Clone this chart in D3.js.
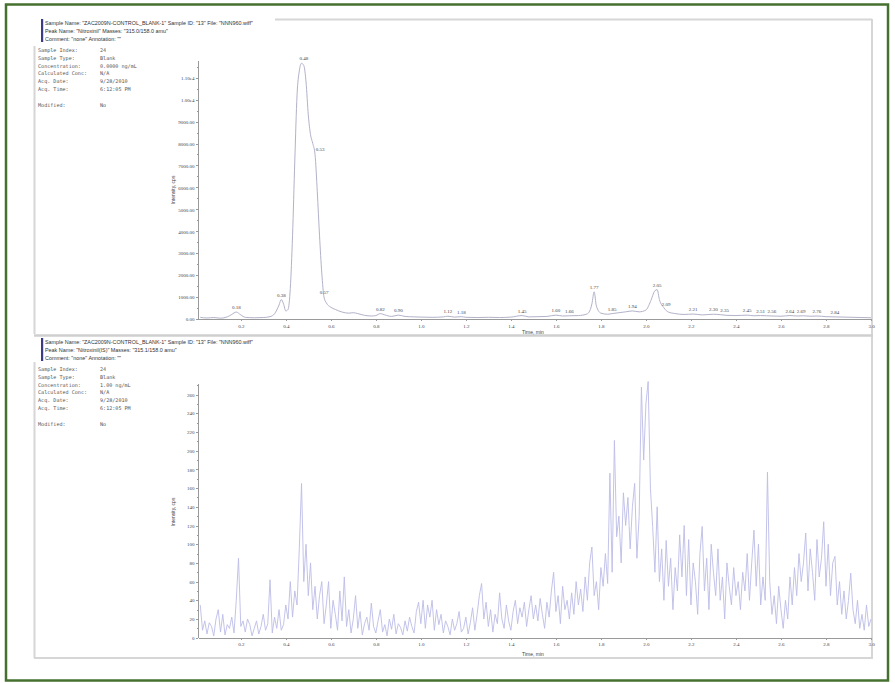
<!DOCTYPE html>
<html>
<head>
<meta charset="utf-8">
<title>Chromatogram</title>
<script src="https://cdn.jsdelivr.net/npm/d3@7"></script>
<style>
  body { margin: 0; background: #fff; }
  svg { display: block; }
  .axis path, .axis line { stroke: #9a9a9a; shape-rendering: crispEdges; }
  .axis text { fill: #444; font-size: 5px; font-family: "Liberation Serif", serif; }
  .head { font-family: "Liberation Sans", sans-serif; font-size: 5.4px; fill: #333; }
  .info { font-family: "DejaVu Sans Mono", monospace; font-size: 5.1px; fill: #555; }
  .peak { font-family: "Liberation Serif", serif; font-size: 5px; fill: #444; text-anchor: middle; }
  .ttl { font-family: "Liberation Sans", sans-serif; font-size: 5px; fill: #444; }
</style>
</head>
<body>
<script>

var width = 895;
var height = 683;

// time axis (min)
var timeTicks = [0.2, 0.4, 0.6, 0.8, 1.0, 1.2, 1.4, 1.6, 1.8, 2.0, 2.2, 2.4, 2.6, 2.8, 3.0];
var timeLabels = ["0.2", "0.4", "0.6", "0.8", "1.0", "1.2", "1.4", "1.6", "1.8", "2.0", "2.2", "2.4", "2.6", "2.8", "3.0"];

// upper trace y ticks
var topTicks = [0, 1000, 2000, 3000, 4000, 5000, 6000, 7000, 8000, 9000, 10000, 11000];
var topTickLabels = ["0.00", "1000.00", "2000.00", "3000.00", "4000.00", "5000.00", "6000.00",
  "7000.00", "8000.00", "9000.00", "1.00e4", "1.10e4"];

// lower trace y ticks
var bottomTicks = [0, 20, 40, 60, 80, 100, 120, 140, 160, 180, 200, 220, 240, 260];

// upper trace: [time, intensity]
var topTrace = [
  [0.02, 90], [0.05, 60], [0.08, 80], [0.11, 50], [0.14, 110], [0.16, 220], [0.18, 330], [0.20, 200],
  [0.22, 90], [0.26, 70], [0.30, 80], [0.33, 120], [0.35, 250], [0.37, 650], [0.38, 900], [0.39, 700],
  [0.40, 380], [0.41, 450], [0.42, 1400], [0.43, 3800], [0.44, 7200], [0.45, 10200], [0.46, 11300],
  [0.47, 11650], [0.48, 11550], [0.49, 10800], [0.50, 9300], [0.51, 8400], [0.52, 8000], [0.53, 7500],
  [0.54, 5800], [0.55, 3800], [0.56, 2100], [0.57, 1000], [0.58, 750], [0.60, 550], [0.62, 450],
  [0.65, 330], [0.68, 280], [0.70, 300], [0.72, 260], [0.75, 180], [0.78, 150], [0.80, 170], [0.82, 260],
  [0.84, 200], [0.87, 130], [0.90, 190], [0.93, 130], [0.97, 110], [1.00, 100], [1.05, 90], [1.10, 110],
  [1.12, 140], [1.15, 100], [1.18, 120], [1.20, 90], [1.25, 80], [1.30, 90], [1.35, 80], [1.40, 100],
  [1.45, 170], [1.48, 110], [1.52, 120], [1.56, 130], [1.60, 190], [1.63, 150], [1.66, 160], [1.70, 170],
  [1.74, 250], [1.76, 700], [1.77, 1250], [1.78, 600], [1.80, 280], [1.83, 230], [1.85, 260], [1.88, 300],
  [1.91, 340], [1.94, 380], [1.97, 340], [2.00, 420], [2.02, 800], [2.04, 1300], [2.05, 1350], [2.06, 900],
  [2.08, 520], [2.10, 330], [2.13, 260], [2.17, 220], [2.21, 240], [2.25, 200], [2.30, 230], [2.33, 210],
  [2.36, 180], [2.40, 170], [2.45, 190], [2.48, 160], [2.51, 170], [2.56, 150], [2.60, 140], [2.64, 170],
  [2.67, 150], [2.70, 160], [2.73, 140], [2.76, 150], [2.80, 120], [2.84, 110], [2.88, 100], [2.92, 90],
  [2.96, 80], [3.00, 70]
];

// labelled peaks of the upper trace
var peakTimes = [0.18, 0.38, 0.48, 0.53, 0.57, 0.82, 0.90, 1.12, 1.18, 1.45, 1.60, 1.66, 1.77, 1.85,
  1.94, 2.05, 2.09, 2.21, 2.30, 2.35, 2.45, 2.51, 2.56, 2.64, 2.69, 2.76, 2.84];
var peakHeights = [330, 900, 11650, 7500, 1000, 260, 190, 140, 120, 170, 190, 160, 1250, 260,
  380, 1350, 450, 240, 230, 200, 190, 170, 150, 170, 160, 150, 110];

// lower trace, sampled every 0.01 min from 0.02 min
var bottomStart = 0.02;
var bottomStep = 0.01;
var bottomIntensity = [
  35, 8, 18, 4, 16, 12, 2, 20, 30, 6,
  25, 3, 14, 10, 22, 5, 40, 85, 12, 18,
  6, 20, 14, 2, 10, 18, 4, 12, 25, 8,
  15, 62, 5, 22, 10, 30, 8, 14, 35, 20,
  60, 22, 50, 35, 95, 165, 60, 100, 45, 80,
  30, 55, 20, 45, 60, 15, 35, 60, 10, 40,
  25, 8, 50, 18, 65, 12, 30, 5, 20, 45,
  10, 28, 3, 15, 22, 8, 37, 12, 5, 18,
  30, 6, 14, 2, 20, 9, 25, 4, 15, 11,
  3, 18, 7, 22, 12, 5, 28, 38, 15, 40,
  10, 35, 22, 40, 8, 30, 14, 25, 5, 18,
  12, 3, 20, 8, 15, 28, 6, 10, 22, 4,
  16, 32, 8, 25, 45, 58, 20, 38, 12, 30,
  6, 25, 15, 48, 20, 10, 35, 18, 8, 28,
  40, 15, 32, 22, 38, 12, 30, 45, 20, 35,
  18, 42, 25, 10, 38, 22, 50, 70, 28, 45,
  15, 55, 30, 40, 20, 48, 25, 60, 35, 52,
  28, 65, 40, 80, 97, 45, 60, 30, 75, 55,
  90, 58, 176, 70, 211, 108, 130, 80, 155, 120,
  150, 95, 140, 165, 85, 130, 268, 190, 250, 274,
  160, 119, 70, 140, 60, 95, 40, 104, 55, 85,
  30, 75, 50, 110, 65, 120, 45, 105, 35, 80,
  60, 25, 90, 119, 50, 85, 30, 100, 70, 45,
  95, 40, 65, 20, 80, 55, 35, 75, 45, 60,
  30, 70, 50, 90, 40, 80, 115, 55, 100, 35,
  65, 40, 177, 60, 25, 45, 15, 55, 30, 10,
  40, 20, 65, 35, 75, 45, 90, 60, 80, 112,
  50, 95, 70, 40, 105, 65, 85, 124, 55, 100,
  45, 80, 87, 35, 60, 25, 50, 20, 40, 69,
  30, 15, 40, 10, 25, 8, 35, 12, 20
];

// header / sample info text
var headTop = ['Sample Name: "ZAC2009N-CONTROL_BLANK-1"   Sample ID: "13"   File: "NNN960.wiff"',
  'Peak Name: "Nitroxinil"   Masses: "315.0/158.0 amu"',
  'Comment: "none"   Annotation: ""'];
var headBottom = ['Sample Name: "ZAC2009N-CONTROL_BLANK-1"   Sample ID: "13"   File: "NNN960.wiff"',
  'Peak Name: "Nitroxinil(IS)"   Masses: "315.1/158.0 amu"',
  'Comment: "none"   Annotation: ""'];
var infoKeys = ["Sample Index:", "Sample Type:", "Concentration:", "Calculated Conc:", "Acq. Date:", "Acq. Time:", "", "Modified:"];
var infoTop = ["24", "Blank", "0.0000   ng/mL", "N/A", "9/28/2010", "6:12:05 PM", "", "No"];
var infoBottom = ["24", "Blank", "1.00     ng/mL", "N/A", "9/28/2010", "6:12:05 PM", "", "No"];

var svg = d3.select('body')
  .append('svg')
  .attr('width', width)
  .attr('height', height);

svg.append('rect')
  .attr('width', width)
  .attr('height', height)
  .attr('fill', '#fff');

// green outer frame
svg.append('rect')
  .attr('x', 6).attr('y', 4.5)
  .attr('width', 882).attr('height', 676)
  .attr('fill', 'none')
  .attr('stroke', '#45702f')
  .attr('stroke-width', 2.5);

// light grey panel frame
var frame = svg.append('g').attr('stroke', '#d6d6d6').attr('stroke-width', 2).attr('fill', 'none');
frame.append('line').attr('x1', 275).attr('x2', 872).attr('y1', 19.5).attr('y2', 19.5);
frame.append('line').attr('x1', 34.5).attr('x2', 34.5).attr('y1', 46).attr('y2', 334);
frame.append('line').attr('x1', 34.5).attr('x2', 34.5).attr('y1', 362).attr('y2', 658);
frame.append('line').attr('x1', 872).attr('x2', 872).attr('y1', 19).attr('y2', 658);
frame.append('line').attr('x1', 34).attr('x2', 873).attr('y1', 658).attr('y2', 658);
frame.append('line').attr('x1', 34).attr('x2', 873).attr('y1', 335.5).attr('y2', 335.5)
  .attr('stroke', '#cfcfcf').attr('stroke-width', 2.5);

var x = d3.scaleLinear().domain([0.01, 3.0]).range([198, 871]);
var yTop = d3.scaleLinear().domain([0, 11800]).range([319.3, 60]);
var yBot = d3.scaleLinear().domain([0, 272]).range([637.7, 383.4]);

function drawHeader(dy, head, info) {
  var g = svg.append('g').attr('transform', 'translate(0,' + dy + ')');
  g.append('rect').attr('x', 41).attr('y', 19).attr('width', 2.2).attr('height', 23).attr('fill', '#3b3b86');
  g.selectAll('text.head').data(head).enter().append('text')
    .attr('class', 'head')
    .attr('x', 45)
    .attr('y', function(d, i) { return 25 + i * 8; })
    .text(function(d) { return d; });
  g.selectAll('text.key').data(infoKeys).enter().append('text')
    .attr('class', 'info key')
    .attr('x', 38)
    .attr('y', function(d, i) { return 52 + i * 7.8; })
    .text(function(d) { return d; });
  g.selectAll('text.val').data(info).enter().append('text')
    .attr('class', 'info val')
    .attr('x', 100)
    .attr('y', function(d, i) { return 52 + i * 7.8; })
    .text(function(d) { return d; });
}

function drawAxes(y, ticks, labels, minorY, yTitle, xTitleY) {
  var bottom = y.range()[0];
  var g = svg.append('g');
  g.append('g')
    .attr('class', 'axis')
    .attr('transform', 'translate(0,' + bottom + ')')
    .call(d3.axisBottom(x).tickValues(timeTicks).tickFormat(function(d, i) { return timeLabels[i]; })
      .tickSize(2).tickPadding(3).tickSizeOuter(0));
  g.append('g')
    .attr('class', 'axis')
    .attr('transform', 'translate(0,' + bottom + ')')
    .call(d3.axisBottom(x).tickValues(d3.range(0.05, 3.0, 0.05)).tickFormat('').tickSize(1).tickSizeOuter(0))
    .select('.domain').remove();
  g.append('g')
    .attr('class', 'axis')
    .attr('transform', 'translate(' + x.range()[0] + ',0)')
    .call(d3.axisLeft(y).tickValues(ticks).tickFormat(function(d, i) { return labels[i]; })
      .tickSize(2).tickPadding(1.5).tickSizeOuter(0));
  g.append('g')
    .attr('class', 'axis')
    .attr('transform', 'translate(' + x.range()[0] + ',0)')
    .call(d3.axisLeft(y).tickValues(minorY).tickFormat('').tickSize(1).tickSizeOuter(0))
    .select('.domain').remove();
  g.append('text')
    .attr('class', 'ttl')
    .attr('transform', 'translate(175,' + yTitle + ') rotate(-90)')
    .attr('text-anchor', 'middle')
    .text('Intensity, cps');
  g.append('text')
    .attr('class', 'ttl')
    .attr('x', 533).attr('y', xTitleY)
    .attr('text-anchor', 'middle')
    .text('Time, min');
}

drawHeader(0, headTop, infoTop);
drawHeader(319, headBottom, infoBottom);

drawAxes(yTop, topTicks, topTickLabels, d3.range(500, 11800, 1000), 190, 334);
drawAxes(yBot, bottomTicks, bottomTicks.map(String), d3.range(10, 272, 20), 512, 656);

// upper trace
var lineTop = d3.line()
  .x(function(d) { return x(d[0]); })
  .y(function(d) { return yTop(d[1]); })
  .curve(d3.curveMonotoneX);

svg.append('path')
  .datum(topTrace)
  .attr('fill', 'none')
  .attr('stroke', '#b2b2c9')
  .attr('stroke-width', 1)
  .attr('d', lineTop);

svg.selectAll('text.peak')
  .data(peakTimes)
  .enter()
  .append('text')
  .attr('class', 'peak')
  .attr('x', function(d, i) { return i == 3 ? x(d) + 5 : x(d); })
  .attr('y', function(d, i) { return yTop(peakHeights[i]) - 3; })
  .text(function(d) { return d3.format('.2f')(d); });

// lower trace
var lineBot = d3.line()
  .x(function(d, i) { return x(bottomStart + i * bottomStep); })
  .y(function(d) { return yBot(d); });

svg.append('path')
  .datum(bottomIntensity)
  .attr('fill', 'none')
  .attr('stroke', '#bcbce8')
  .attr('stroke-width', 0.9)
  .attr('d', lineBot);

</script>
</body>
</html>
